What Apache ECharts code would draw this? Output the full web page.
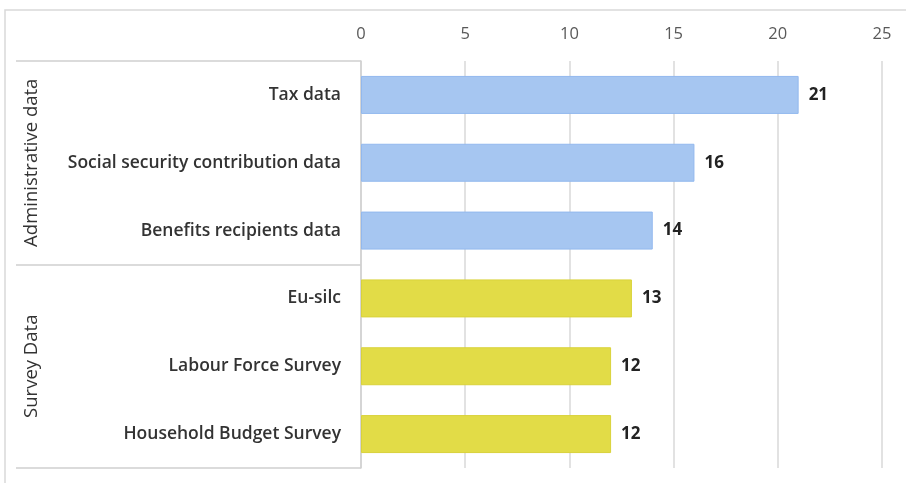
<!DOCTYPE html>
<html>
<head>
<meta charset="utf-8">
<script src="https://cdn.jsdelivr.net/npm/echarts@6/dist/echarts.min.js"></script>
<style>
html,body{margin:0;padding:0;background:#fff;}
#c{width:906px;height:483px;}
</style>
</head>
<body>
<div id="c"></div>
<script>
var categories = ["Tax data","Social security contribution data","Benefits recipients data","Eu-silc","Labour Force Survey","Household Budget Survey"];
var values = [21,16,14,13,12,12];
var itemGroups = [0,0,0,1,1,1];
var groupNames = ["Administrative data","Survey Data"];
var xTicks = [0,5,10,15,20,25];

var groupColors = [
  {fill:"#A6C6F1", border:"#92B8EE"},
  {fill:"#E2DC47", border:"#D9D23A"}
];

var chart = echarts.init(document.getElementById('c'));
var font = "'Open Sans', sans-serif";
chart.setOption({
  animation:false,
  backgroundColor:'#fff',
  graphic:[{type:'rect',shape:{x:5,y:10,width:1000,height:1000},style:{fill:'none',stroke:'#d9d9d9',lineWidth:1.5},silent:true}],
  grid:{left:361,right:24,top:61,bottom:15},
  xAxis:{
    type:'value', position:'top', min:xTicks[0], max:xTicks[xTicks.length-1], interval:5,
    axisLine:{show:false}, axisTick:{show:false},
    splitLine:{lineStyle:{color:'#d9d9d9',width:1.5}},
    axisLabel:{color:'#595959',fontSize:16.5,fontFamily:font,margin:18}
  },
  yAxis:[{
    type:'category', data:categories, inverse:true,
    axisLine:{show:true,lineStyle:{color:'#d0d0d0',width:1.5}},
    axisTick:{show:false},
    axisLabel:{interval:0,color:'#333',fontSize:17.5,fontWeight:600,fontFamily:font,margin:20}
  },{
    type:'category', data:groupNames, inverse:true, position:'left',
    axisLine:{show:false},
    axisTick:{show:true,interval:0,length:345,lineStyle:{color:'#d0d0d0',width:1.5}},
    axisLabel:{interval:0,hideOverlap:false,color:'#333',fontSize:18.5,fontFamily:font,rotate:90,margin:320}
  }],
  series:[{
    type:'bar', yAxisIndex:0, barWidth:'56%',
    data:values.map(function(v,i){
      var g=groupColors[itemGroups[i]];
      return {value:v,itemStyle:{color:g.fill,borderColor:g.border,borderWidth:1}};
    }),
    label:{show:true,position:'right',distance:10,color:'#222',fontSize:17,fontWeight:'bold',fontFamily:font}
  }]
});
</script>
</body>
</html>
